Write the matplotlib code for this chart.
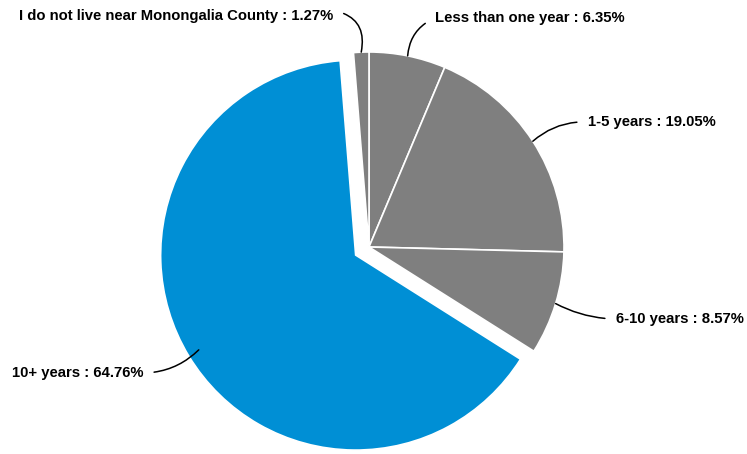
import numpy as np
import matplotlib.pyplot as plt

plt.rcParams['font.family'] = ['Liberation Sans', 'DejaVu Sans']

# data
categories = ["Less than one year", "1-5 years", "6-10 years", "10+ years",
              "I do not live near Monongalia County"]
percents = [6.35, 19.05, 8.57, 64.76, 1.27]
colors = ["#7f7f7f", "#7f7f7f", "#7f7f7f", "#008fd5", "#7f7f7f"]
explode_frac = [0, 0, 0, 0.08, 0]

# label placement (pixel coords, y from top)
label_pos = [(435, 18, 'left'), (588, 122, 'left'), (616, 319, 'left'),
             (143, 373, 'right'), (333, 16, 'right')]
label_rad = [0.3, 0.2, -0.12, 0.2, -0.5]
label_rely = [0.5, 0.5, 0.5, 0.5, 0.9]

W, H = 747, 454
fig = plt.figure(figsize=(W / 100, H / 100), dpi=100)
ax = fig.add_axes([0, 0, 1, 1])

cx, cy, r = 369, H - 247, 195
explode = [e * r for e in explode_frac]
wedges, _ = ax.pie(percents, colors=colors, explode=explode, startangle=90,
                   counterclock=False, center=(cx, cy), radius=r,
                   wedgeprops=dict(edgecolor='white', linewidth=1.2),
                   frame=True)
ax.set_xlim(0, W)
ax.set_ylim(0, H)
ax.set_aspect('equal')
ax.axis('off')

for w, cat, p, (tx, ty, ha), rad, rely in zip(wedges, categories, percents,
                                              label_pos, label_rad, label_rely):
    ang = np.deg2rad((w.theta1 + w.theta2) / 2)
    wx, wy = w.center
    k = 0.94 if cat == "10+ years" else 1.0
    xy = (wx + k * r * np.cos(ang), wy + k * r * np.sin(ang))
    relx = 0 if ha == 'left' else 1
    ax.annotate(f"{cat} : {p:.2f}%", xy=xy, xytext=(tx, H - ty),
                ha=ha, va='center', fontsize=10.7, fontweight='bold',
                arrowprops=dict(arrowstyle='-', color='black', lw=1.1,
                                connectionstyle=f'arc3,rad={rad}',
                                relpos=(relx, rely), patchA=None,
                                shrinkA=8, shrinkB=0))

fig.savefig("out.png", dpi=100)
